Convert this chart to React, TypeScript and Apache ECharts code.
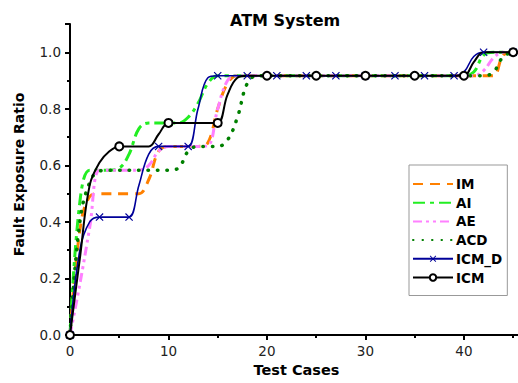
import React, { useEffect, useRef } from 'react';
import * as echarts from 'echarts';

const testCases = [0, 1, 2, 3, 4, 5, 6, 7, 8, 9, 10, 11, 12, 13, 14, 15, 16, 17, 18, 19, 20, 21, 22, 23, 24, 25, 26, 27, 28, 29, 30, 31, 32, 33, 34, 35, 36, 37, 38, 39, 40, 41, 42, 43, 44, 45];

const imValues = [0, 0.37, 0.49, 0.5, 0.5, 0.5, 0.5, 0.5, 0.55, 0.65, 0.667, 0.667, 0.667, 0.667, 0.68, 0.8, 0.89, 0.917, 0.917, 0.917, 0.917, 0.917, 0.917, 0.917, 0.917, 0.917, 0.917, 0.917, 0.917, 0.917, 0.917, 0.917, 0.917, 0.917, 0.917, 0.917, 0.917, 0.917, 0.917, 0.917, 0.917, 0.917, 0.917, 0.917, 0.99, 1.0];
const aiValues = [0, 0.47, 0.583, 0.583, 0.583, 0.59, 0.64, 0.73, 0.75, 0.75, 0.75, 0.75, 0.77, 0.82, 0.89, 0.917, 0.917, 0.917, 0.917, 0.917, 0.917, 0.917, 0.917, 0.917, 0.917, 0.917, 0.917, 0.917, 0.917, 0.917, 0.917, 0.917, 0.917, 0.917, 0.917, 0.917, 0.917, 0.917, 0.917, 0.917, 0.917, 0.93, 0.99, 1.0, 1.0, 1.0];
const aeValues = [0, 0.18, 0.38, 0.583, 0.583, 0.583, 0.583, 0.583, 0.6, 0.65, 0.667, 0.667, 0.667, 0.667, 0.67, 0.8, 0.9, 0.917, 0.917, 0.917, 0.917, 0.917, 0.917, 0.917, 0.917, 0.917, 0.917, 0.917, 0.917, 0.917, 0.917, 0.917, 0.917, 0.917, 0.917, 0.917, 0.917, 0.917, 0.917, 0.917, 0.917, 0.917, 0.935, 0.98, 1.0, 1.0];
const acdValues = [0, 0.4, 0.54, 0.58, 0.583, 0.583, 0.583, 0.583, 0.583, 0.583, 0.583, 0.59, 0.65, 0.667, 0.667, 0.667, 0.69, 0.77, 0.89, 0.917, 0.917, 0.917, 0.917, 0.917, 0.917, 0.917, 0.917, 0.917, 0.917, 0.917, 0.917, 0.917, 0.917, 0.917, 0.917, 0.917, 0.917, 0.917, 0.917, 0.917, 0.917, 0.917, 0.917, 0.93, 0.985, 1.0];
const icmDValues = [0, 0.3, 0.4, 0.417, 0.417, 0.417, 0.417, 0.53, 0.64, 0.667, 0.667, 0.667, 0.667, 0.8, 0.91, 0.917, 0.917, 0.917, 0.917, 0.917, 0.917, 0.917, 0.917, 0.917, 0.917, 0.917, 0.917, 0.917, 0.917, 0.917, 0.917, 0.917, 0.917, 0.917, 0.917, 0.917, 0.917, 0.917, 0.917, 0.917, 0.93, 0.985, 1.0, 1.0, 1.0, 1.0];
const icmValues = [0, 0.27, 0.53, 0.61, 0.65, 0.667, 0.667, 0.667, 0.667, 0.71, 0.75, 0.75, 0.75, 0.75, 0.75, 0.75, 0.85, 0.91, 0.917, 0.917, 0.917, 0.917, 0.917, 0.917, 0.917, 0.917, 0.917, 0.917, 0.917, 0.917, 0.917, 0.917, 0.917, 0.917, 0.917, 0.917, 0.917, 0.917, 0.917, 0.917, 0.917, 0.965, 1.0, 1.0, 1.0, 1.0];

const icmMarkerIdx = [0, 5, 10, 15, 20, 25, 30, 35, 40, 45];
const icmDMarkerIdx = [0, 3, 6, 9, 12, 15, 18, 21, 24, 27, 30, 33, 36, 39, 42, 45];

const xTickLabels = [0, 10, 20, 30, 40];
const yTickLabels = [0, 0.2, 0.4, 0.6, 0.8, 1.0];

const seriesNames = ['IM', 'AI', 'AE', 'ACD', 'ICM_D', 'ICM'];
const namesWithMarkers = ['ICM_D', 'ICM'];

const FONT = 'DejaVu Sans';
const crossPath = 'path://M0,1L1,0L5,4L9,0L10,1L6,5L10,9L9,10L5,6L1,10L0,9L4,5Z';

function plain(values: number[]) {
  return testCases.map((x, i) => [x, values[i]]);
}
function marked(values: number[], markers: number[]) {
  return testCases.map((x, i) =>
    markers.includes(i) ? { value: [x, values[i]] } : { value: [x, values[i]], symbol: 'none' }
  );
}

export default function App() {
  const ref = useRef<HTMLDivElement>(null);
  useEffect(() => {
    if (!ref.current) return;
    const chart = echarts.init(ref.current, null, { renderer: 'svg' });
    const axisLineStyle = { color: '#000', width: 2 };
    const labelStyle = { fontFamily: FONT, fontSize: 13.5, color: '#222' };
    const nameStyle = { fontFamily: FONT, fontWeight: 'bold' as const, color: '#000' };
    chart.setOption({
      animation: false,
      backgroundColor: '#fff',
      textStyle: { fontFamily: FONT },
      graphic: [
        {
          type: 'text',
          left: 230,
          top: 12,
          style: { text: 'ATM System', font: `bold 16px "${FONT}"`, fill: '#000' },
        },
      ],
      legend: {
        orient: 'vertical',
        left: 409,
        top: 165,
        padding: [12, 5, 11, 3],
        itemWidth: 40,
        itemHeight: 8,
        itemGap: 4.7,
        borderColor: '#999',
        borderWidth: 1,
        backgroundColor: '#fff',
        textStyle: { fontFamily: FONT, fontWeight: 'bold', fontSize: 13.5, color: '#000', padding: [0, 0, 0, -2] },
        data: seriesNames.map((n) =>
          namesWithMarkers.includes(n) ? { name: n } : { name: n, itemStyle: { opacity: 0 } }
        ),
      },
      grid: { left: 70, right: -5, top: 24, bottom: 48, containLabel: false, outerBoundsMode: 'none' },
      xAxis: [
        {
          type: 'value',
          min: 0,
          max: 46,
          interval: 10,
          position: 'bottom',
          axisLine: { show: true, onZero: false, lineStyle: axisLineStyle },
          axisTick: { show: true, inside: false, length: 5, lineStyle: { color: '#000', width: 2 } },
          axisLabel: {
            ...labelStyle,
            margin: 9,
            formatter: (v: number) => (xTickLabels.includes(v) ? String(v) : ''),
          },
          splitLine: { show: false },
          name: 'Test Cases',
          nameLocation: 'middle',
          nameGap: 24,
          nameTextStyle: { ...nameStyle, fontSize: 14.5 },
        },
        {
          type: 'value',
          min: 0,
          max: 46,
          interval: 5,
          position: 'bottom',
          axisLine: { show: false },
          axisTick: { show: true, inside: false, length: 3, lineStyle: { color: '#000', width: 2 } },
          axisLabel: { show: false },
          splitLine: { show: false },
        },
      ],
      yAxis: [
        {
          type: 'value',
          min: 0,
          max: 1.1,
          interval: 0.2,
          position: 'left',
          axisLine: { show: true, onZero: false, lineStyle: axisLineStyle },
          axisTick: { show: true, inside: false, length: 5, lineStyle: { color: '#000', width: 2 } },
          axisLabel: {
            ...labelStyle,
            margin: 9,
            formatter: (v: number) =>
              yTickLabels.some((t) => Math.abs(t - v) < 1e-6) ? v.toFixed(1) : '',
          },
          splitLine: { show: false },
          name: 'Fault Exposure Ratio',
          nameLocation: 'middle',
          nameGap: 44,
          nameTextStyle: { ...nameStyle, fontSize: 14, padding: [0, 0, 0, 10] },
        },
        {
          type: 'value',
          min: 0,
          max: 1.1,
          interval: 0.1,
          position: 'left',
          axisLine: { show: false },
          axisTick: { show: true, inside: false, length: 3, lineStyle: { color: '#000', width: 2 } },
          axisLabel: { show: false },
          splitLine: { show: false },
        },
      ],
      series: [
        {
          name: 'IM',
          type: 'line',
          smooth: 0.4,
          symbol: 'none',
          data: plain(imValues),
          color: '#ff8000',
          lineStyle: { color: '#ff8000', width: 3, type: [10, 7] },
        },
        {
          name: 'AI',
          type: 'line',
          smooth: 0.4,
          symbol: 'none',
          data: plain(aiValues),
          color: '#22ee22',
          lineStyle: { color: '#22ee22', width: 3, type: [12, 5, 4, 5] },
        },
        {
          name: 'AE',
          type: 'line',
          smooth: 0.4,
          symbol: 'none',
          data: plain(aeValues),
          color: '#ff80ff',
          lineStyle: { color: '#ff80ff', width: 3, type: [9, 4, 3, 4, 3, 4] },
        },
        {
          name: 'ACD',
          type: 'line',
          smooth: 0.4,
          symbol: 'none',
          data: plain(acdValues),
          color: '#008000',
          lineStyle: { color: '#008000', width: 3.5, type: [0.5, 9], cap: 'round' },
        },
        {
          name: 'ICM_D',
          type: 'line',
          smooth: 0.4,
          symbol: crossPath,
          symbolSize: 8,
          data: marked(icmDValues, icmDMarkerIdx),
          color: '#000099',
          itemStyle: { color: '#000099' },
          lineStyle: { color: '#000099', width: 1.6 },
        },
        {
          name: 'ICM',
          type: 'line',
          smooth: 0.4,
          symbol: 'circle',
          symbolSize: 8,
          data: marked(icmValues, icmMarkerIdx),
          color: '#000',
          itemStyle: { color: '#fff', borderColor: '#000', borderWidth: 2 },
          lineStyle: { color: '#000', width: 2 },
        },
      ],
    });
    return () => chart.dispose();
  }, []);
  return (
    <div
      ref={ref}
      style={{ position: 'fixed', left: 0, top: 0, width: 518, height: 383, background: '#fff' }}
    />
  );
}
